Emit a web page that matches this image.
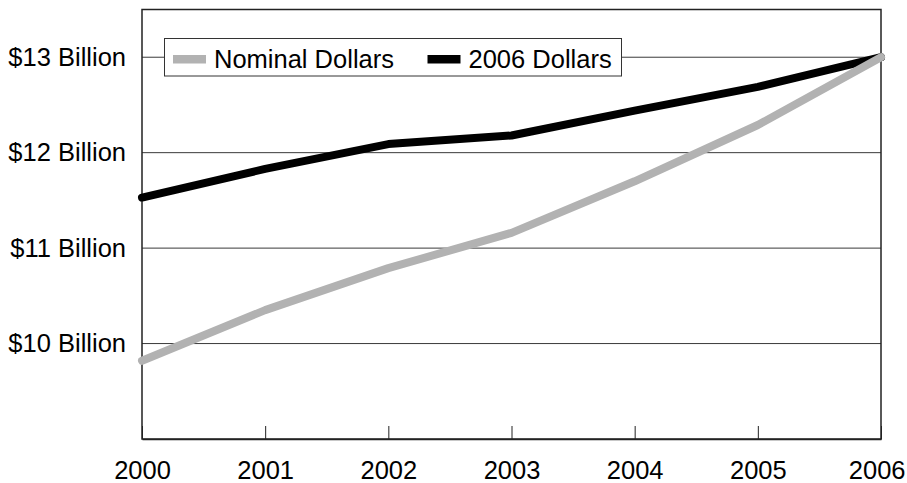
<!DOCTYPE html>
<html>
<head>
<meta charset="utf-8">
<script src="https://cdn.jsdelivr.net/npm/d3@7"></script>
<style>
  body { margin: 0; background: #fff; }
  text { font-family: "Liberation Sans", Arial, sans-serif; fill: #000; }
</style>
</head>
<body>
<div id="svg-container"></div>
<script>
// data
const years = [2000, 2001, 2002, 2003, 2004, 2005, 2006];
const nominal = [9.82, 10.35, 10.79, 11.16, 11.7, 12.29, 13.0];
const real2006 = [11.53, 11.83, 12.09, 12.18, 12.44, 12.69, 13.0];
const yTicks = [10, 11, 12, 13];
const seriesNames = ["Nominal Dollars", "2006 Dollars"];
const seriesColors = ["#b2b2b2", "#000000"];

const width = 907;
const height = 483;
const margin = { top: 9.5, right: 26, bottom: 44, left: 142 };

const svg = d3
  .select("#svg-container")
  .append("svg")
  .attr("width", width)
  .attr("height", height);

// scale
const xScale = d3
  .scaleLinear()
  .domain([2000, 2006])
  .range([margin.left, width - margin.right]);
const yScale = d3
  .scaleLinear()
  .domain([9, 13.5])
  .range([height - margin.bottom, margin.top]);

// gridlines
svg
  .append("g")
  .selectAll("line")
  .data(yTicks)
  .enter()
  .append("line")
  .attr("x1", margin.left)
  .attr("x2", width - margin.right)
  .attr("y1", (d) => yScale(d))
  .attr("y2", (d) => yScale(d))
  .attr("stroke", "#3a3a3a")
  .attr("stroke-width", 1);

// frame
svg
  .append("rect")
  .attr("x", margin.left)
  .attr("y", margin.top)
  .attr("width", width - margin.right - margin.left)
  .attr("height", height - margin.bottom - margin.top)
  .attr("fill", "none")
  .attr("stroke", "#222")
  .attr("stroke-width", 1.5);

// x axis (ticks pointing up inside)
const xAxis = d3
  .axisBottom(xScale)
  .tickValues(years)
  .tickFormat(d3.format("d"))
  .tickSizeInner(-13)
  .tickSizeOuter(0)
  .tickPadding(22);

const gx = svg
  .append("g")
  .attr("transform", `translate(0, ${height - margin.bottom})`)
  .call(xAxis);
gx.select(".domain").attr("stroke", "#222").attr("stroke-width", 1.5);
gx.selectAll(".tick line").attr("stroke", "#222");
gx.selectAll(".tick text")
  .attr("font-size", "25.5px")
  .attr("font-family", "Liberation Sans, Arial, sans-serif")
  .attr("fill", "#000");
// last label kept inside the page, like the original
gx.selectAll(".tick text")
  .filter((d) => d == 2006)
  .attr("text-anchor", "end")
  .attr("x", 24);

// y axis labels
const yAxis = d3
  .axisLeft(yScale)
  .tickValues(yTicks)
  .tickFormat((d) => `$${d} Billion`)
  .tickSize(0)
  .tickPadding(16);

const gy = svg
  .append("g")
  .attr("transform", `translate(${margin.left}, 0)`)
  .call(yAxis);
gy.select(".domain").remove();
gy.selectAll(".tick text")
  .attr("font-size", "25.5px")
  .attr("font-family", "Liberation Sans, Arial, sans-serif")
  .attr("fill", "#000");

// lines
const line = d3
  .line()
  .x((d, i) => xScale(years[i]))
  .y((d) => yScale(d));

[real2006, nominal].forEach((values, k) => {
  svg
    .append("path")
    .datum(values)
    .attr("d", line)
    .attr("fill", "none")
    .attr("stroke", k == 0 ? seriesColors[1] : seriesColors[0])
    .attr("stroke-width", 8)
    .attr("stroke-linecap", "round")
    .attr("stroke-linejoin", "round");
});

// legend
const legend = svg.append("g");
legend
  .append("rect")
  .attr("x", 164.5)
  .attr("y", 38.5)
  .attr("width", 457)
  .attr("height", 37.5)
  .attr("fill", "#fff")
  .attr("stroke", "#333")
  .attr("stroke-width", 1);

const legendX = [173, 427.5];
legend
  .selectAll("legend-rects")
  .data(seriesNames)
  .enter()
  .append("rect")
  .attr("x", (d, i) => legendX[i])
  .attr("y", 55)
  .attr("width", 33)
  .attr("height", 8.5)
  .attr("fill", (d, i) => seriesColors[i]);

legend
  .selectAll("legend-labels")
  .data(seriesNames)
  .enter()
  .append("text")
  .attr("x", (d, i) => legendX[i] + 41)
  .attr("y", 67.5)
  .attr("font-size", "25.5px")
  .text((d) => d);
</script>
</body>
</html>
